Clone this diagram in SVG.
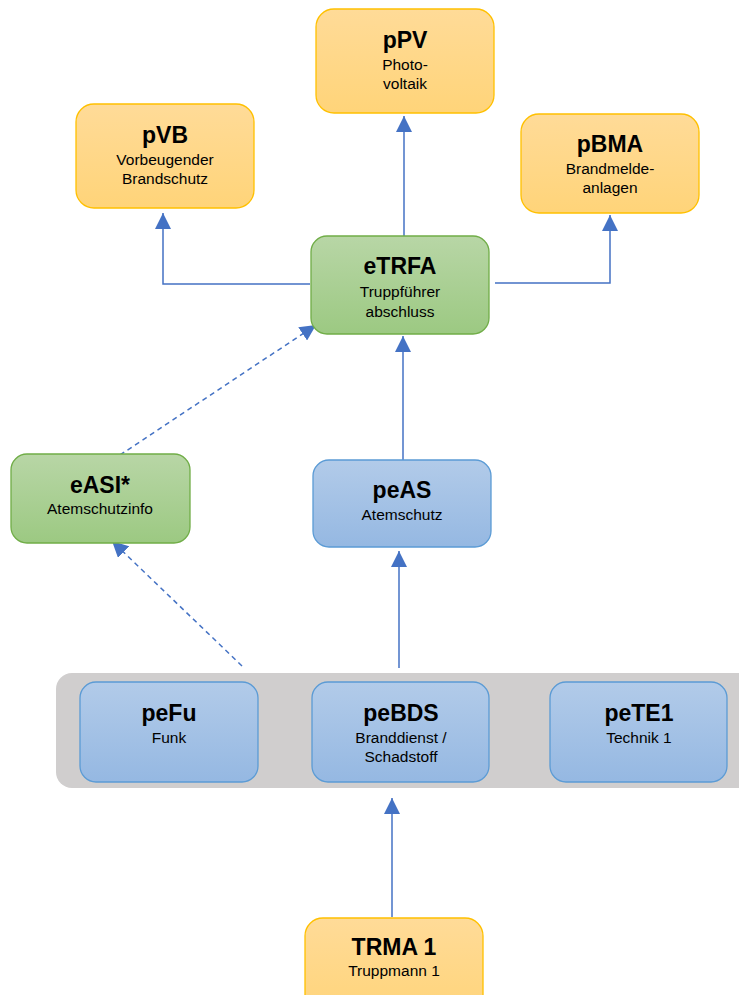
<svg xmlns="http://www.w3.org/2000/svg" width="739" height="995" viewBox="0 0 739 995">
<defs>
<linearGradient id="gO" x1="0" y1="0" x2="0" y2="1"><stop offset="0" stop-color="#FFDB98"/><stop offset="1" stop-color="#FFD479"/></linearGradient>
<linearGradient id="gG" x1="0" y1="0" x2="0" y2="1"><stop offset="0" stop-color="#B8D6A6"/><stop offset="1" stop-color="#9CC982"/></linearGradient>
<linearGradient id="gB" x1="0" y1="0" x2="0" y2="1"><stop offset="0" stop-color="#B2CBE9"/><stop offset="1" stop-color="#95B8E2"/></linearGradient>
<marker id="ah" viewBox="0 0 10 10" refX="10" refY="5" markerWidth="16" markerHeight="16" markerUnits="userSpaceOnUse" orient="auto"><path d="M0,0 L10,5 L0,10 Z" fill="#4472C4"/></marker>
</defs>
<style>
.o{fill:url(#gO);stroke:#FFC000;stroke-width:1.3}
.g{fill:url(#gG);stroke:#70AD47;stroke-width:1.3}
.b{fill:url(#gB);stroke:#5B9BD5;stroke-width:1.3}
.t{font-family:"Liberation Sans",Arial,sans-serif;font-weight:bold;font-size:23px;fill:#000;text-anchor:middle}
.s{font-family:"Liberation Sans",Arial,sans-serif;font-size:15.5px;fill:#000;text-anchor:middle}
.c{fill:none;stroke:#4472C4;stroke-width:1.5}
.d{fill:none;stroke:#4472C4;stroke-width:1.5;stroke-dasharray:5,4}
</style>
<rect x="56" y="673" width="700" height="115" rx="16" fill="#D0CECE"/>
<g id="connectors">
<path class="c" d="M404,236 V116" marker-end="url(#ah)"/>
<path class="c" d="M310,284 H163 V213" marker-end="url(#ah)"/>
<path class="c" d="M495,283 H610 V215" marker-end="url(#ah)"/>
<path class="c" d="M403,460 V336" marker-end="url(#ah)"/>
<path class="c" d="M399,668 V551" marker-end="url(#ah)"/>
<path class="c" d="M392,917 V798" marker-end="url(#ah)"/>
<path class="d" d="M242,666 L112,541" marker-end="url(#ah)"/>
<path class="d" d="M120,455 L316,325" marker-end="url(#ah)"/>
</g>
<g id="pPV"><rect class="o" x="316" y="9" width="178" height="104" rx="18"/><text class="t" x="405" y="48">pPV</text><text class="s" x="405" y="70">Photo-</text><text class="s" x="405" y="89">voltaik</text></g>
<g id="pVB"><rect class="o" x="76" y="104" width="178" height="104" rx="18"/><text class="t" x="165" y="143">pVB</text><text class="s" x="165" y="165">Vorbeugender</text><text class="s" x="165" y="184">Brandschutz</text></g>
<g id="pBMA"><rect class="o" x="521" y="114" width="178" height="99" rx="18"/><text class="t" x="610" y="152">pBMA</text><text class="s" x="610" y="174">Brandmelde-</text><text class="s" x="610" y="193">anlagen</text></g>
<g id="eTRFA"><rect class="g" x="311" y="236" width="178" height="98" rx="16"/><text class="t" x="400" y="274">eTRFA</text><text class="s" x="400" y="297">Truppführer</text><text class="s" x="400" y="317">abschluss</text></g>
<g id="eASI"><rect class="g" x="11" y="454" width="179" height="89" rx="16"/><text class="t" x="100" y="493">eASI*</text><text class="s" x="100" y="514">Atemschutzinfo</text></g>
<g id="peAS"><rect class="b" x="313" y="460" width="178" height="87" rx="16"/><text class="t" x="402" y="498">peAS</text><text class="s" x="402" y="520">Atemschutz</text></g>
<g id="peFu"><rect class="b" x="80" y="682" width="178" height="100" rx="16"/><text class="t" x="169" y="721">peFu</text><text class="s" x="169" y="743">Funk</text></g>
<g id="peBDS"><rect class="b" x="312" y="682" width="177" height="100" rx="16"/><text class="t" x="401" y="721">peBDS</text><text class="s" x="401" y="743">Branddienst /</text><text class="s" x="401" y="762">Schadstoff</text></g>
<g id="peTE1"><rect class="b" x="550" y="682" width="177" height="100" rx="16"/><text class="t" x="639" y="721">peTE1</text><text class="s" x="639" y="743">Technik 1</text></g>
<g id="TRMA1"><rect class="o" x="305" y="918" width="178" height="100" rx="18"/><text class="t" x="394" y="955">TRMA 1</text><text class="s" x="394" y="976">Truppmann 1</text></g>
</svg>
